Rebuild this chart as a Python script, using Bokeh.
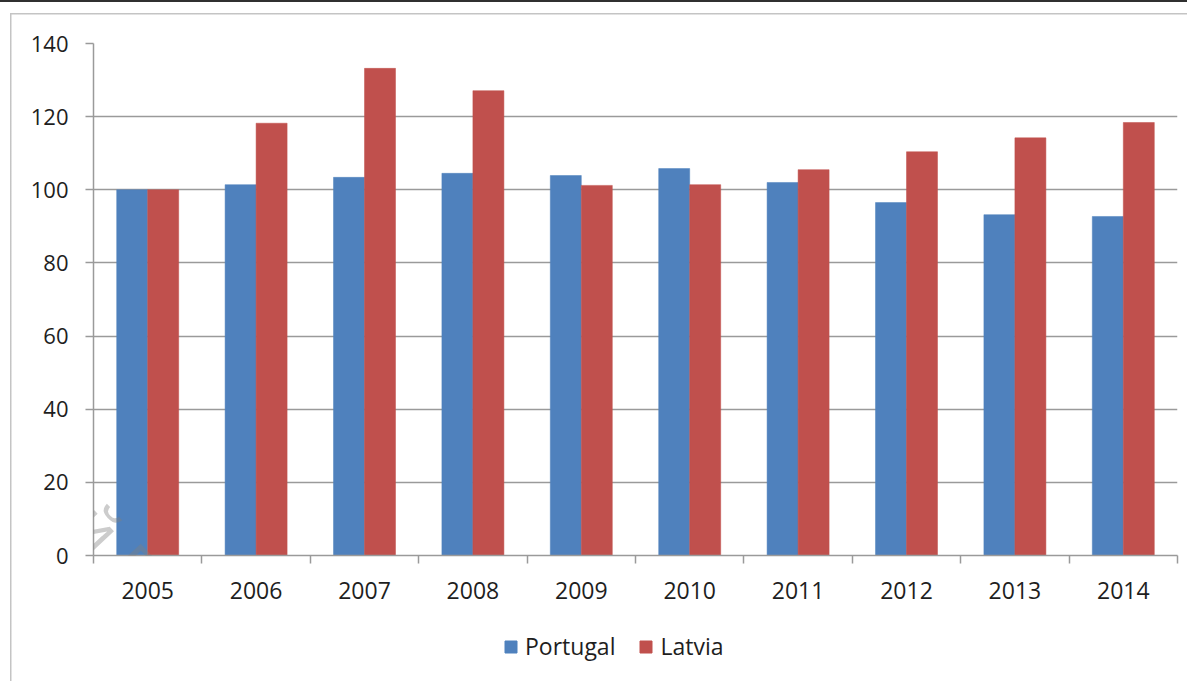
from bokeh.plotting import figure
from bokeh.models import (ColumnDataSource, Range1d, FixedTicker, Legend, LegendItem, Label)
from bokeh.layouts import column
from bokeh.transform import dodge
from bokeh.embed import file_html
from bokeh.resources import INLINE

years = [2005, 2006, 2007, 2008, 2009, 2010, 2011, 2012, 2013, 2014]
portugal = [100.0, 101.4, 103.4, 104.5, 103.9, 105.8, 102.0, 96.5, 93.2, 92.7]
latvia = [100.0, 118.2, 133.2, 127.1, 101.2, 101.4, 105.5, 110.4, 114.2, 118.4]
y_ticks = [0, 20, 40, 60, 80, 100, 120, 140]
series_names = ["Portugal", "Latvia"]
colors = ["#4F81BD", "#C0504D"]
watermark = "оский Государ"

FONT = "Open Sans"
TXT = "#1e1e1e"
GRID = "#9a9a9a"
W = 1187
H1 = 620          # chart part
H2 = 61           # legend strip below it

src = ColumnDataSource(dict(year=years, portugal=portugal, latvia=latvia))

p = figure(width=W, height=H1, output_backend="svg", toolbar_location=None,
           x_range=Range1d(years[0] - 0.5, years[-1] + 0.5),
           y_range=Range1d(y_ticks[0], y_ticks[-1]),
           min_border_left=93, min_border_right=10, min_border_top=43,
           min_border_bottom=H1 - 555)
p.outline_line_color = None
p.background_fill_color = "white"
p.border_fill_color = None
# page frame: dark top edge and light inner frame line
p.styles = {
    "background": ("linear-gradient(#303030,#303030) 0 0 / 100% 2px no-repeat, "
                   "linear-gradient(#c4c4c4,#c4c4c4) 10px 13px / 100% 1.5px no-repeat, "
                   "linear-gradient(#c4c4c4,#c4c4c4) 10px 13px / 1.5px 100% no-repeat, "
                   "white"),
}

bw = 0.286
r1 = p.vbar(x=dodge("year", -bw / 2, range=p.x_range), top="portugal", width=bw,
            source=src, fill_color=colors[0], line_color=colors[0], line_width=0.5)
r2 = p.vbar(x=dodge("year", bw / 2, range=p.x_range), top="latvia", width=bw,
            source=src, fill_color=colors[1], line_color=colors[1], line_width=0.5)

# x axis: labels at years, small ticks between groups
p.xaxis.ticker = FixedTicker(ticks=years, minor_ticks=[y - 0.5 for y in years] + [years[-1] + 0.5])
p.xaxis.major_tick_out = 0
p.xaxis.major_tick_in = 0
p.xaxis.minor_tick_out = 8
p.xaxis.minor_tick_in = 0
p.xaxis.minor_tick_line_color = GRID
p.xaxis.minor_tick_line_width = 1.5
p.xaxis.axis_line_color = GRID
p.xaxis.axis_line_width = 1.5
p.xaxis.major_label_text_font = FONT
p.xaxis.major_label_text_font_size = "23px"
p.xaxis.major_label_text_color = TXT
p.xaxis.major_label_standoff = 18

p.yaxis.ticker = FixedTicker(ticks=y_ticks, minor_ticks=[])
p.yaxis.major_tick_out = 8
p.yaxis.major_tick_in = 0
p.yaxis.major_tick_line_color = GRID
p.yaxis.major_tick_line_width = 1.5
p.yaxis.axis_line_color = GRID
p.yaxis.axis_line_width = 1.5
p.yaxis.major_label_text_font = FONT
p.yaxis.major_label_text_font_size = "22px"
p.yaxis.major_label_text_color = TXT
p.yaxis.major_label_standoff = 17

p.xgrid.grid_line_color = None
p.ygrid.grid_line_color = GRID
p.ygrid.grid_line_width = 1.5

# watermark (diagonal, semi-transparent)
x0 = years[0] - 0.5
p.add_layout(Label(x=x0 - 0.959, y=39.4, text=watermark, angle=-47, angle_units="deg",
                   text_baseline="alphabetic", text_font=FONT,
                   text_font_size="62px", text_color="#7f7f7f", text_alpha=0.4))

# legend strip (its own renderers use the same data but lie entirely outside its view)
lf = figure(width=W, height=H2, output_backend="svg", toolbar_location=None,
            x_range=Range1d(years[0] - 0.5, years[-1] + 0.5),
            y_range=Range1d(1000, 1001),
            x_axis_type=None, y_axis_type=None, min_border=0)
lf.outline_line_color = None
lf.background_fill_color = None
lf.border_fill_color = None
lf.xgrid.visible = False
lf.ygrid.visible = False
lf.styles = {"background": ("linear-gradient(#c4c4c4,#c4c4c4) 10px 0 / 1.5px 100% no-repeat, "
                            "white")}
k1 = lf.vbar(x="year", top="portugal", width=bw, source=src,
             fill_color=colors[0], line_color=colors[0])
k2 = lf.vbar(x="year", top="latvia", width=bw, source=src,
             fill_color=colors[1], line_color=colors[1])
legend = Legend(items=[LegendItem(label=series_names[0], renderers=[k1]),
                       LegendItem(label=series_names[1], renderers=[k2])],
                orientation="horizontal", location=(410, 19),
                glyph_width=15, glyph_height=15, label_standoff=7, spacing=23,
                padding=0, margin=0, border_line_color=None,
                background_fill_alpha=0,
                label_text_font=FONT, label_text_font_size="23px",
                label_text_color=TXT)
lf.add_layout(legend)

page = column(p, lf, spacing=0)
open("out.html", "w").write(file_html(page, INLINE))
